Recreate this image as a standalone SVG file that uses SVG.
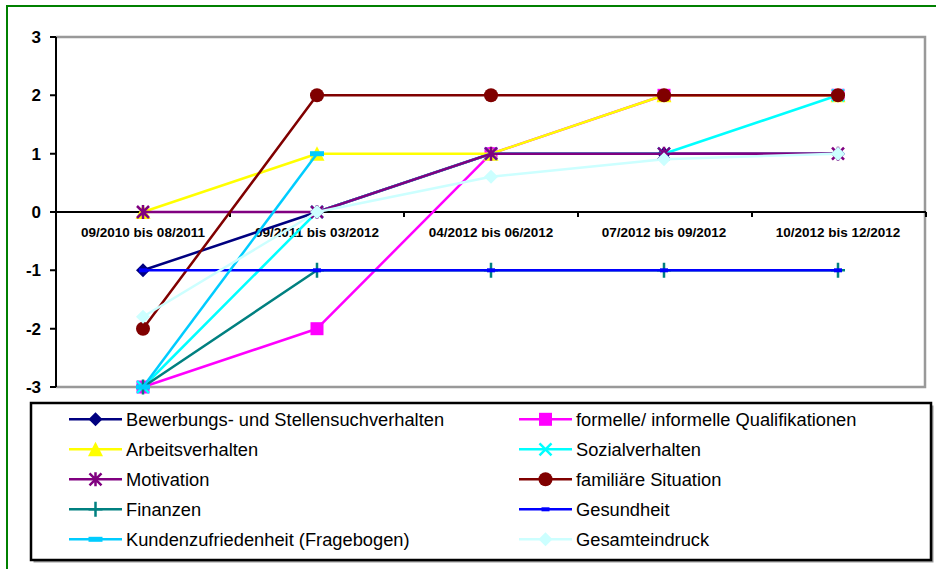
<svg xmlns="http://www.w3.org/2000/svg" width="936" height="569" viewBox="0 0 936 569">
<style>
.ln{fill:none;stroke-width:2.5;stroke-linejoin:round}
.ylab{font-family:"Liberation Sans",Arial,sans-serif;font-weight:bold;font-size:17px;text-anchor:end;fill:#000}
.xlab{font-family:"Liberation Sans",Arial,sans-serif;font-weight:bold;font-size:13.5px;text-anchor:middle;fill:#000}
.lg{font-family:"Liberation Sans",Arial,sans-serif;font-size:18.3px;fill:#000}
.ax{stroke:#000;stroke-width:2;fill:none}
.gr{stroke:#999;stroke-width:2.5;fill:none}
</style>
<defs>
<marker id="mDia" markerUnits="userSpaceOnUse" markerWidth="20" markerHeight="20" refX="10" refY="10" overflow="visible"><polygon points="10,3 17,10 10,17 3,10" fill="#000080"/></marker>
<marker id="mSq" markerUnits="userSpaceOnUse" markerWidth="20" markerHeight="20" refX="10" refY="10" overflow="visible"><rect x="3.5" y="3.5" width="13" height="13" fill="#FF00FF"/></marker>
<marker id="mTri" markerUnits="userSpaceOnUse" markerWidth="20" markerHeight="20" refX="10" refY="10" overflow="visible"><polygon points="10,2.5 17.5,17 2.5,17" fill="#FFFF00"/></marker>
<marker id="mX" markerUnits="userSpaceOnUse" markerWidth="20" markerHeight="20" refX="10" refY="10" overflow="visible"><path d="M4,4L16,16M16,4L4,16" stroke="#00FFFF" stroke-width="2.5" fill="none"/></marker>
<marker id="mStar" markerUnits="userSpaceOnUse" markerWidth="20" markerHeight="20" refX="10" refY="10" overflow="visible"><path d="M4,4L16,16M16,4L4,16M10,3V17" stroke="#800080" stroke-width="2.5" fill="none"/></marker>
<marker id="mCir" markerUnits="userSpaceOnUse" markerWidth="20" markerHeight="20" refX="10" refY="10" overflow="visible"><circle cx="10" cy="10" r="7" fill="#800000"/></marker>
<marker id="mPlus" markerUnits="userSpaceOnUse" markerWidth="20" markerHeight="20" refX="10" refY="10" overflow="visible"><path d="M10,2.5V17.5M3,10H17" stroke="#008080" stroke-width="2.5" fill="none"/></marker>
<marker id="mDash" markerUnits="userSpaceOnUse" markerWidth="20" markerHeight="20" refX="10" refY="10" overflow="visible"><rect x="6" y="8" width="8" height="4" fill="#0000FF"/></marker>
<marker id="mDash2" markerUnits="userSpaceOnUse" markerWidth="20" markerHeight="20" refX="10" refY="10" overflow="visible"><rect x="3" y="7.5" width="14" height="5" fill="#00CCFF"/></marker>
<marker id="mDia2" markerUnits="userSpaceOnUse" markerWidth="20" markerHeight="20" refX="10" refY="10" overflow="visible"><polygon points="10,3 17,10 10,17 3,10" fill="#CCFFFF"/></marker>
</defs>
<path d="M7,569V6H936" stroke="#008000" stroke-width="2" fill="none"/>
<g id="plot-frame">
<path class="gr" d="M56,37H925V387H56"/>
<path class="ax" d="M56,37V387M50,37H56M50,95.3H56M50,153.7H56M50,212H56M50,270.3H56M50,328.7H56M50,387H56"/>
<path class="ax" d="M56,212H926M230,212V217M404,212V217M578,212V217M752,212V217M926,212V217"/>
</g>
<g id="y-labels">
<text class="ylab" x="41" y="43">3</text>
<text class="ylab" x="41" y="101.3">2</text>
<text class="ylab" x="41" y="159.7">1</text>
<text class="ylab" x="41" y="218">0</text>
<text class="ylab" x="41" y="276.3">-1</text>
<text class="ylab" x="41" y="334.7">-2</text>
<text class="ylab" x="41" y="393">-3</text>
</g>
<g id="x-labels">
<text class="xlab" x="143" y="237">09/2010 bis 08/2011</text>
<text class="xlab" x="317" y="237">09/2011 bis 03/2012</text>
<text class="xlab" x="491" y="237">04/2012 bis 06/2012</text>
<text class="xlab" x="664" y="237">07/2012 bis 09/2012</text>
<text class="xlab" x="838" y="237">10/2012 bis 12/2012</text>
</g>
<g id="connectors">
<polyline id="s1" class="ln" stroke="#000080" points="143,270.3 317,212 491,153.7 664,153.7 838,153.7" marker-start="url(#mDia)" marker-mid="url(#mDia)" marker-end="url(#mDia)"/>
<polyline id="s2" class="ln" stroke="#FF00FF" points="143,387 317,328.7 491,153.7 664,95.3 838,95.3" marker-start="url(#mSq)" marker-mid="url(#mSq)" marker-end="url(#mSq)"/>
<polyline id="s3" class="ln" stroke="#FFFF00" points="143,212 317,153.7 491,153.7 664,95.3 838,95.3" marker-start="url(#mTri)" marker-mid="url(#mTri)" marker-end="url(#mTri)"/>
<polyline id="s4" class="ln" stroke="#00FFFF" points="143,387 317,212 491,153.7 664,153.7 838,95.3" marker-start="url(#mX)" marker-mid="url(#mX)" marker-end="url(#mX)"/>
<polyline id="s5" class="ln" stroke="#800080" points="143,212 317,212 491,153.7 664,153.7 838,153.7" marker-start="url(#mStar)" marker-mid="url(#mStar)" marker-end="url(#mStar)"/>
<polyline id="s6" class="ln" stroke="#800000" points="143,328.7 317,95.3 491,95.3 664,95.3 838,95.3" marker-start="url(#mCir)" marker-mid="url(#mCir)" marker-end="url(#mCir)"/>
<polyline id="s7" class="ln" stroke="#008080" points="143,387 317,270.3 491,270.3 664,270.3 838,270.3" marker-start="url(#mPlus)" marker-mid="url(#mPlus)" marker-end="url(#mPlus)"/>
<polyline id="s8" class="ln" stroke="#0000FF" points="143,270.3 317,270.3 491,270.3 664,270.3 838,270.3" marker-start="url(#mDash)" marker-mid="url(#mDash)" marker-end="url(#mDash)"/>
<polyline id="s9" class="ln" stroke="#00CCFF" points="143,387 317,153.7" marker-start="url(#mDash2)" marker-end="url(#mDash2)"/>
<polyline id="s10" class="ln" stroke="#CCFFFF" points="143,316.7 317,212 491,176.7 664,159.2 838,153.7" marker-start="url(#mDia2)" marker-mid="url(#mDia2)" marker-end="url(#mDia2)"/>
</g>
<g id="legend">
<rect x="33.5" y="405.5" width="900" height="157" fill="#999"/>
<rect x="31" y="403" width="900" height="157" fill="#fff" stroke="#000" stroke-width="2.5"/>
<g id="lg1"><path class="ln" stroke="#000080" d="M69,419.3H95.5H122" marker-mid="url(#mDia)"/><text class="lg" x="126" y="425.8">Bewerbungs- und Stellensuchverhalten</text></g>
<g id="lg3"><path class="ln" stroke="#FFFF00" d="M69,449.3H95.5H122" marker-mid="url(#mTri)"/><text class="lg" x="126" y="455.8">Arbeitsverhalten</text></g>
<g id="lg5"><path class="ln" stroke="#800080" d="M69,479.3H95.5H122" marker-mid="url(#mStar)"/><text class="lg" x="126" y="485.8">Motivation</text></g>
<g id="lg7"><path class="ln" stroke="#008080" d="M69,509.3H95.5H122" marker-mid="url(#mPlus)"/><text class="lg" x="126" y="515.8">Finanzen</text></g>
<g id="lg9"><path class="ln" stroke="#00CCFF" d="M69,539.3H95.5H122" marker-mid="url(#mDash2)"/><text class="lg" x="126" y="545.8">Kundenzufriedenheit (Fragebogen)</text></g>
<g id="lg2"><path class="ln" stroke="#FF00FF" d="M519,419.3H545.5H572" marker-mid="url(#mSq)"/><text class="lg" x="576" y="425.8">formelle/ informelle Qualifikationen</text></g>
<g id="lg4"><path class="ln" stroke="#00FFFF" d="M519,449.3H545.5H572" marker-mid="url(#mX)"/><text class="lg" x="576" y="455.8">Sozialverhalten</text></g>
<g id="lg6"><path class="ln" stroke="#800000" d="M519,479.3H545.5H572" marker-mid="url(#mCir)"/><text class="lg" x="576" y="485.8">familiäre Situation</text></g>
<g id="lg8"><path class="ln" stroke="#0000FF" d="M519,509.3H545.5H572" marker-mid="url(#mDash)"/><text class="lg" x="576" y="515.8">Gesundheit</text></g>
<g id="lg10"><path class="ln" stroke="#CCFFFF" d="M519,539.3H545.5H572" marker-mid="url(#mDia2)"/><text class="lg" x="576" y="545.8">Gesamteindruck</text></g>
</g>
</svg>
